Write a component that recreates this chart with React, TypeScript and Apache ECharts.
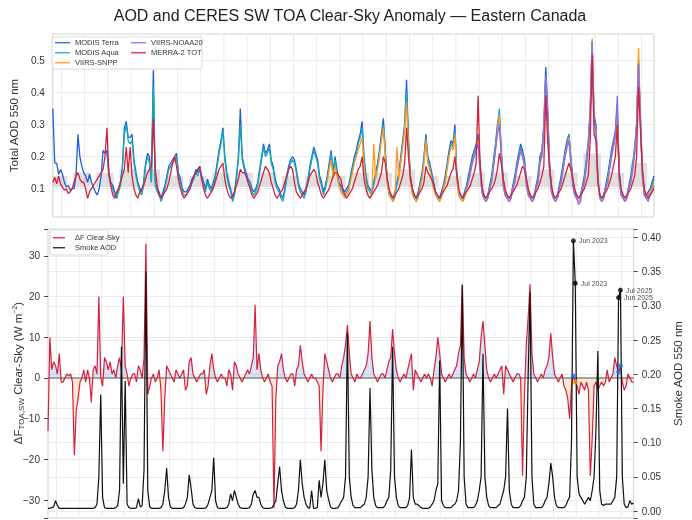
import React, { useEffect, useRef } from "react";
import * as echarts from "echarts";

// Month index 0 = Mar 2000, last = Feb 2026 (312 months)
const START_YEAR = 2000;
const START_MONTH = 3;
const N_MONTHS = 312;
const MONTH_NAMES = ["Jan","Feb","Mar","Apr","May","Jun","Jul","Aug","Sep","Oct","Nov","Dec"];
const monthIndex = (y: number, m: number) => (y - START_YEAR) * 12 + (m - START_MONTH);

// ---------- Top panel: total AOD 550 nm ----------
const modisTerraStart = [2000, 3];
const modisTerra = [
  .35,.18,.18,.145,.16,.145,.12,.105,.11,.095,
  .10,.10,.14,.27,.20,.17,.15,.14,.12,.145,.12,.105,
  .09,.08,.10,.14,.22,.21,.22,.15,.12,.11,.09,.07,
  .10,.12,.17,.29,.31,.26,.26,.27,.19,.15,.12,.10,
  .09,.12,.18,.21,.20,.12,.47,.12,.10,.09,.07,.09,
  .11,.14,.17,.18,.19,.20,.21,.15,.13,.10,.09,.09,
  .10,.11,.13,.14,.16,.15,.17,.14,.12,.10,.13,.11,
  .10,.12,.14,.18,.22,.25,.29,.20,.15,.12,.10,.07,
  .09,.14,.20,.35,.20,.17,.15,.13,.12,.10,.09,.10,
  .12,.16,.20,.24,.21,.22,.24,.19,.17,.13,.11,.10,
  .08,.07,.10,.14,.17,.19,.20,.19,.16,.12,.10,.09,
  .08,.10,.13,.17,.20,.23,.21,.19,.14,.12,.09,.11,
  .14,.18,.22,.15,.20,.16,.12,.11,.10,.09,.10,.11,
  .14,.17,.20,.22,.25,.27,.31,.20,.14,.11,.10,.09,
  .12,.15,.18,.22,.27,.32,.22,.13,.09,.08,.07,.09,
  .12,.15,.20,.25,.30,.44,.25,.14,.10,.08,.07,.09,
  .12,.15,.20,.27,.20,.18,.15,.12,.09,.08,.07,.09,
  .11,.14,.18,.22,.25,.24,.30,.15,.09,.08,.07,.09,
  .11,.14,.17,.20,.22,.24,.27,.18,.10,.08,.07,.08,
  .11,.14,.19,.24,.30,.33,.22,.13,.09,.08,.07,.08,
  .11,.14,.18,.21,.24,.22,.19,.13,.09,.08,.07,.08,
  .11,.14,.20,.22,.30,.48,.35,.18,.10,.08,.07,.08,
  .11,.14,.18,.22,.25,.27,.20,.13,.09,.08,.07,.08,
  .11,.14,.19,.25,.35,.56,.33,.30,.13,.08,.07,.08,
  .11,.14,.18,.22,.25,.28,.36,.15,.09,.08,.07,.08,
  .11,.14,.18,.23,.30,.50,.32,.16,.09,.08,.09,.10,
  .12,.14,
];
const modisAquaStart = [2002, 7];
const modisAqua = [
  .21,.14,.11,.10,.08,.07,
  .09,.11,.16,.27,.30,.25,.24,.25,.18,.14,.11,.09,
  .08,.11,.17,.20,.18,.12,.42,.11,.09,.08,.06,.08,
  .10,.13,.16,.17,.18,.19,.20,.14,.12,.09,.08,.08,
  .09,.10,.12,.13,.15,.14,.16,.13,.11,.09,.12,.10,
  .09,.11,.13,.17,.21,.24,.28,.19,.14,.11,.09,.06,
  .08,.13,.19,.30,.19,.16,.14,.12,.11,.09,.08,.09,
  .11,.15,.19,.23,.20,.21,.23,.18,.16,.12,.10,.09,
  .07,.06,.09,.13,.16,.18,.19,.18,.15,.11,.09,.08,
  .07,.09,.12,.16,.19,.22,.20,.18,.13,.11,.08,.10,
  .13,.17,.21,.14,.19,.15,.11,.10,.09,.08,.09,.10,
  .13,.16,.19,.21,.24,.26,.29,.19,.13,.10,.09,.08,
  .11,.14,.17,.21,.26,.30,.21,.12,.08,.07,.06,.08,
  .11,.14,.19,.24,.29,.40,.24,.13,.09,.07,.06,.08,
  .11,.14,.19,.26,.19,.17,.14,.11,.08,.07,.06,.08,
  .10,.13,.17,.21,.24,.23,.28,.14,.08,.07,.06,.08,
  .10,.13,.16,.19,.21,.23,.26,.17,.09,.07,.06,.07,
  .10,.13,.18,.23,.29,.35,.21,.12,.08,.07,.06,.07,
  .10,.13,.17,.20,.23,.21,.18,.12,.08,.07,.06,.07,
  .10,.13,.19,.21,.29,.45,.33,.17,.09,.07,.06,.07,
  .10,.13,.17,.21,.24,.27,.19,.12,.08,.07,.06,.07,
  .10,.13,.18,.24,.34,.55,.32,.29,.12,.07,.06,.07,
  .10,.13,.17,.21,.24,.27,.34,.14,.08,.07,.06,.07,
  .10,.13,.17,.22,.29,.49,.31,.15,.08,.07,.08,.09,
  .11,.13,
];
const viirsSnppStart = [2012, 1];
const viirsSnpp = [
  .12,.16,.19,.13,.17,.14,.11,.09,.08,.07,.08,.09,
  .12,.15,.18,.20,.22,.24,.26,.17,.11,.08,.07,.08,
  .24,.13,.16,.20,.25,.29,.20,.12,.08,.07,.06,.07,
  .23,.13,.18,.23,.28,.37,.23,.12,.08,.07,.06,.07,
  .10,.13,.18,.25,.18,.16,.13,.10,.08,.07,.06,.07,
  .10,.12,.16,.20,.23,.22,.27,.13,.08,.07,.06,.07,
  .10,.12,.15,.18,.20,.22,.25,.16,.09,.07,.06,.07,
  .10,.12,.17,.22,.28,.33,.20,.11,.08,.07,.06,.07,
  .10,.12,.16,.19,.22,.20,.17,.11,.08,.07,.06,.07,
  .10,.12,.18,.20,.28,.44,.32,.16,.09,.07,.06,.07,
  .10,.12,.16,.20,.23,.26,.18,.11,.08,.07,.06,.07,
  .10,.12,.17,.23,.33,.57,.31,.28,.12,.07,.06,.07,
  .10,.12,.16,.20,.23,.26,.35,.13,.08,.07,.06,.07,
  .10,.12,.16,.21,.30,.54,.30,.14,.08,.07,.07,.09,
  .10,.12,
];
const viirsNoaa20Start = [2018, 1];
const viirsNoaa20 = [
  .10,.12,.15,.18,.20,.22,.24,.16,.09,.07,.06,.07,
  .10,.12,.17,.22,.27,.30,.20,.11,.08,.07,.06,.07,
  .10,.12,.16,.19,.22,.20,.17,.11,.08,.07,.06,.07,
  .10,.12,.18,.20,.28,.45,.32,.16,.09,.07,.06,.07,
  .10,.12,.16,.20,.23,.25,.18,.11,.08,.07,.05,.06,
  .10,.12,.17,.23,.33,.56,.31,.28,.12,.07,.06,.07,
  .10,.12,.16,.20,.23,.27,.39,.13,.08,.07,.06,.07,
  .10,.12,.16,.21,.30,.49,.30,.14,.08,.07,.06,.08,
  .09,.11,
];
const merra2Start = [2000, 3];
const merra2Tot = [
  .12,.135,.115,.14,.115,.105,.095,.10,.085,.09,
  .10,.12,.14,.15,.13,.12,.12,.10,.07,.09,.10,.11,
  .12,.13,.14,.15,.16,.20,.29,.15,.11,.08,.07,.09,
  .10,.12,.14,.16,.23,.15,.23,.14,.10,.08,.07,.09,
  .10,.11,.13,.15,.16,.17,.32,.16,.11,.08,.07,.08,
  .09,.10,.12,.15,.18,.20,.17,.13,.10,.08,.07,.08,
  .09,.10,.12,.14,.15,.16,.17,.13,.10,.08,.07,.08,
  .09,.10,.12,.14,.16,.17,.18,.13,.10,.08,.07,.08,
  .09,.11,.13,.16,.15,.15,.14,.12,.10,.08,.07,.08,
  .09,.11,.13,.15,.17,.16,.15,.12,.10,.08,.07,.08,
  .09,.10,.12,.14,.16,.17,.16,.12,.09,.08,.07,.08,
  .09,.10,.12,.14,.15,.16,.15,.12,.10,.08,.07,.08,
  .09,.10,.12,.14,.15,.15,.14,.13,.10,.08,.07,.08,
  .09,.10,.12,.14,.16,.17,.20,.13,.10,.08,.07,.08,
  .09,.10,.11,.13,.15,.20,.18,.13,.10,.08,.07,.08,
  .09,.10,.12,.14,.18,.29,.20,.13,.10,.08,.07,.08,
  .09,.10,.12,.17,.15,.14,.13,.11,.09,.08,.07,.08,
  .09,.10,.11,.13,.15,.16,.20,.14,.10,.08,.07,.08,
  .09,.10,.11,.13,.15,.18,.39,.18,.11,.08,.07,.08,
  .09,.10,.11,.13,.16,.21,.18,.13,.10,.08,.07,.08,
  .09,.10,.11,.13,.15,.17,.16,.13,.10,.08,.07,.08,
  .09,.10,.12,.14,.17,.39,.25,.16,.11,.08,.07,.08,
  .09,.10,.12,.14,.16,.18,.16,.13,.10,.08,.07,.08,
  .09,.10,.12,.14,.25,.52,.27,.25,.12,.08,.07,.08,
  .09,.10,.12,.14,.17,.20,.30,.15,.10,.08,.07,.08,
  .09,.10,.12,.14,.20,.42,.28,.16,.10,.08,.07,.08,
  .09,.10,
];
// Grey background bars (seasonal mean AOD), one per year
const barYears = [2000,2001,2002,2003,2004,2005,2006,2007,2008,2009,2010,2011,2012,2013,2014,2015,2016,2017,2018,2019,2020,2021,2022,2023,2024,2025];
const barTops = [.14,.15,.15,.16,.16,.14,.14,.15,.15,.15,.14,.14,.14,.15,.15,.16,.14,.14,.15,.15,.14,.16,.15,.21,.15,.18];
const barBase = 0.105;

// ---------- Bottom panel ----------
const dfStart = [2000, 3];
const dfClearSky = [
  -13,10,2,4,3,1,6,-1,-1,0,
  1,0.5,1,-1,-19,-8,-5,-1,0,2,-1,2,
  0,-6,2,3,1,20,0,-2,5,4,2,4,
  1,2,0,3,5,2,20,3,1,-2,0,1,
  1,-1,3,2,0,5,33,-4,-2,0,1,-1,
  0,2,-3,-18,-5,3,2,1,0,-1,2,1,
  0,1,2,-3,-2,4,5,1,0,-1,0,1,
  1,2,-4,-2,3,6,2,0,-1,0,1,0,
  0,-2,2,1,-3,4,3,1,0,-1,0,1,
  2,1,3,5,18,2,6,2,0,-1,0,1,
  -1,-2,-32,-5,3,4,6,2,0,-1,0,1,
  1,-2,2,3,8,4,1,0,-1,0,1,0,
  0,-1,-2,-18,-3,6,4,2,0,-1,0,1,
  1,0,3,5,8,13,6,1,0,-1,1,0,
  0,1,2,3,6,14,5,1,0,-1,0,1,
  1,0,2,4,5,12,6,2,0,-1,0,1,
  0,2,4,6,-3,2,1,0,-1,0,1,0,
  1,0,-2,2,5,10,6,1,0,-1,0,1,
  0,1,2,3,6,8,23,5,1,0,-1,0,
  1,0,2,4,10,14,8,2,0,-1,0,1,
  0,1,2,3,-4,3,2,1,0,-1,0,1,
  1,0,-24,-4,8,15,23,6,1,0,-1,0,
  1,0,2,3,5,11,5,1,0,-1,0,1,
  -2,-3,-5,-10,-2,0.5,-1,-2,-4,-1,-2,-3,
  -1,-3,-24,-15,-2,-1,-3,-2,-1,-2,-1,2,
  -1,0,1,5,3,1.5,3,-1,-3,-2,1,0,
  -1,-1,
];
const smokeStart = [2000, 3];
const smokeAod = [
  .004,.004,.005,.006,.015,.008,.004,.004,.004,.004,
  .004,.004,.004,.004,.004,.004,.004,.004,.004,.004,.004,.004,
  .004,.004,.004,.005,.01,.05,.17,.02,.005,.004,.004,.004,
  .004,.004,.005,.008,.03,.24,.04,.19,.01,.005,.004,.004,
  .004,.005,.018,.006,.008,.06,.35,.03,.006,.004,.004,.004,
  .004,.004,.005,.01,.03,.063,.02,.006,.004,.004,.004,.004,
  .004,.004,.005,.01,.02,.053,.033,.01,.005,.004,.004,.004,
  .004,.004,.005,.01,.02,.03,.078,.015,.005,.004,.004,.004,
  .004,.005,.01,.025,.015,.03,.02,.01,.005,.004,.004,.004,
  .004,.005,.01,.025,.03,.02,.02,.01,.005,.004,.004,.004,
  .004,.005,.01,.015,.04,.065,.03,.015,.006,.004,.004,.004,
  .004,.005,.01,.03,.075,.04,.02,.01,.005,.004,.03,.004,
  .004,.005,.045,.02,.04,.075,.03,.017,.006,.004,.004,.004,
  .005,.01,.015,.02,.05,.26,.05,.02,.008,.005,.005,.005,
  .005,.008,.01,.02,.05,.18,.06,.02,.008,.005,.005,.005,
  .005,.008,.015,.02,.06,.24,.05,.02,.008,.005,.005,.005,
  .005,.008,.02,.09,.02,.01,.01,.008,.005,.004,.004,.004,
  .004,.006,.01,.015,.03,.04,.22,.015,.008,.005,.005,.005,
  .005,.008,.01,.015,.03,.10,.33,.05,.01,.005,.005,.005,
  .005,.008,.015,.03,.05,.23,.05,.02,.008,.005,.005,.005,
  .005,.008,.01,.02,.03,.05,.15,.03,.01,.005,.005,.005,
  .005,.008,.015,.02,.05,.20,.32,.05,.01,.005,.005,.005,
  .005,.008,.015,.02,.04,.07,.05,.02,.008,.005,.005,.005,
  .005,.008,.015,.02,.10,.395,.333,.05,.025,.02,.015,.01,
  .015,.02,.015,.03,.05,.12,.234,.03,.01,.008,.01,.01,
  .01,.01,.015,.02,.05,.312,.323,.05,.01,.005,.006,.015,
  .01,.012,
];
const annotatedMonths = [[2023, 6], [2023, 7], [2025, 6], [2025, 7]];

// ---------- helpers ----------
const toSeries = (start: number[], vals: number[]) => {
  const i0 = monthIndex(start[0], start[1]);
  return vals.map((v, k) => [i0 + k, v]);
};
const monthName = (i: number) => {
  const t = i + (START_MONTH - 1);
  return MONTH_NAMES[t % 12] + " " + (START_YEAR + Math.floor(t / 12));
};

const FONT = "'Liberation Sans', Arial, Helvetica, sans-serif";
const C = {
  terra: "#1f5fd8",
  aqua: "#17a9b9",
  snpp: "#ff9a1f",
  noaa: "#8a6df0",
  merra: "#d6213d",
  df: "#d6213d",
  smoke: "#111111",
};

export default function App() {
  const ref = useRef<HTMLDivElement>(null);
  useEffect(() => {
    if (!ref.current) return;
    const chart = echarts.init(ref.current, undefined, { renderer: "svg" });

    const df = toSeries(dfStart, dfClearSky);
    const pos: number[][] = [];
    const neg: number[][] = [];
    for (let k = 0; k < df.length; k++) {
      const [x, v] = df[k];
      if (k > 0) {
        const [xp, vp] = df[k - 1];
        if ((vp > 0 && v < 0) || (vp < 0 && v > 0)) {
          const xc = xp + (0 - vp) / (v - vp) * (x - xp);
          pos.push([xc, 0]);
          neg.push([xc, 0]);
        }
      }
      pos.push([x, Math.max(v, 0)]);
      neg.push([x, Math.min(v, 0)]);
    }

    const smoke = toSeries(smokeStart, smokeAod);
    const annotIdx = annotatedMonths.map(([y, m]) => monthIndex(y, m));
    const dfStartIdx = monthIndex(dfStart[0], dfStart[1]);
    const smokeStartIdx = monthIndex(smokeStart[0], smokeStart[1]);

    const yearTicks: number[][] = [];
    for (let y = START_YEAR; y <= 2026; y++) {
      const v = monthIndex(y, 7) + 0.5;
      if (v > 0 && v < N_MONTHS - 1) yearTicks.push([v, 0]);
    }

    const gridLineSeries = (xi: number, yi: number) => ({
      type: "custom",
      xAxisIndex: xi,
      yAxisIndex: yi,
      z: 1,
      silent: true,
      data: yearTicks,
      renderItem: (params: any, api: any) => {
        const x = api.coord([api.value(0), api.value(1)])[0];
        const cs = params.coordSys;
        return {
          type: "line",
          shape: { x1: x, y1: cs.y, x2: x, y2: cs.y + cs.height },
          style: { stroke: "#ebebeb", lineWidth: 1 },
        };
      },
    });

    const lineS = (name: string, color: string, data: any[], xi: number, yi: number, z = 3, w = 1.3) => ({
      type: "line",
      name,
      data,
      xAxisIndex: xi,
      yAxisIndex: yi,
      showSymbol: false,
      symbol: "none",
      connectNulls: false,
      z,
      lineStyle: { color, width: w },
      itemStyle: { color },
    });

    const legendItems = (x0: number, y0: number, items: [string, string][], lineLen: number, textDx: number) =>
      items.flatMap(([label, color], k) => [
        { type: "line", shape: { x1: x0, y1: y0 + k * 10, x2: x0 + lineLen, y2: y0 + k * 10 }, style: { stroke: color, lineWidth: 1.5, opacity: 0.85 }, z: 100 },
        { type: "text", x: x0 + textDx, y: y0 + k * 10, style: { text: label, fill: "#333", font: `7.5px ${FONT}`, verticalAlign: "middle" }, z: 100 },
      ]);

    const option: any = {
      animation: false,
      textStyle: { fontFamily: FONT },
      grid: [
        { left: 48, top: 34, width: 606, height: 183, show: true, borderColor: "#cfcfcf", borderWidth: 1, backgroundColor: "#fff" },
        { left: 48, top: 229, width: 606, height: 289, show: true, borderColor: "#cfcfcf", borderWidth: 1, backgroundColor: "#fff" },
      ],
      xAxis: [
        { type: "value", gridIndex: 0, min: 0, max: N_MONTHS - 1, show: false },
        { type: "value", gridIndex: 1, min: 0, max: N_MONTHS - 1, show: false },
      ],
      yAxis: [
        {
          type: "value", gridIndex: 0, min: 0.0115, max: 0.583, splitNumber: 5,
          axisLine: { show: false }, axisTick: { show: false },
          axisLabel: {
            color: "#333", fontSize: 10, margin: 8, fontFamily: FONT,
            formatter: (v: number) => (Math.abs(v * 10 - Math.round(v * 10)) < 1e-6 ? v.toFixed(1) : ""),
          },
          splitLine: { lineStyle: { color: "#ebebeb", width: 1 } },
          name: "Total AOD 550 nm", nameLocation: "middle", nameGap: 18, nameRotate: 90,
          nameTextStyle: { fontSize: 11.5, color: "#333", fontFamily: FONT },
        },
        {
          type: "value", gridIndex: 1, min: -34.4, max: 36.6, splitNumber: 7,
          axisLine: { show: false },
          axisTick: { show: true, length: 4, lineStyle: { color: "#444" } },
          axisLabel: {
            color: "#333", fontSize: 10, margin: 8, fontFamily: FONT,
            formatter: (v: number) => (Math.abs(v / 10 - Math.round(v / 10)) < 1e-6 ? String(Math.round(v)).replace("-", "\u2212") : ""),
          },
          splitLine: { lineStyle: { color: "#ebebeb", width: 1 } },
        },
        {
          type: "value", gridIndex: 1, position: "right", min: -0.0102, max: 0.4123, splitNumber: 8,
          axisLine: { show: false },
          axisTick: { show: true, length: 4, lineStyle: { color: "#444" } },
          axisLabel: {
            color: "#333", fontSize: 10, margin: 8, fontFamily: FONT,
            formatter: (v: number) => (Math.abs(v / 0.05 - Math.round(v / 0.05)) < 1e-6 ? v.toFixed(2) : ""),
          },
          splitLine: { lineStyle: { color: "#ebebeb", width: 1 } },
          name: "Smoke AOD 550 nm", nameLocation: "middle", nameGap: 33, nameRotate: 90,
          nameTextStyle: { fontSize: 11.5, color: "#333", fontFamily: FONT },
        },
      ],
      series: [
        gridLineSeries(0, 0),
        gridLineSeries(1, 1),
        {
          type: "custom",
          name: "season",
          xAxisIndex: 0,
          yAxisIndex: 0,
          z: 2,
          silent: true,
          data: barYears.map((y, k) => [monthIndex(y, 6), barBase, barTops[k]]),
          encode: { x: 0, y: [1, 2] },
          renderItem: (params: any, api: any) => {
            const c = api.value(0);
            const p0 = api.coord([c - 4.5, api.value(2)]);
            const p1 = api.coord([c + 4.5, api.value(1)]);
            const cs = params.coordSys;
            const xl = Math.max(p0[0], cs.x);
            const xr = Math.min(p1[0], cs.x + cs.width);
            return {
              type: "rect",
              shape: { x: xl, y: p0[1], width: xr - xl, height: p1[1] - p0[1] },
              style: { fill: "rgba(170,170,170,0.38)" },
            };
          },
        },
        lineS("MODIS Terra", C.terra, toSeries(modisTerraStart, modisTerra), 0, 0, 3),
        lineS("MODIS Aqua", C.aqua, toSeries(modisAquaStart, modisAqua), 0, 0, 3),
        lineS("VIIRS-SNPP", C.snpp, toSeries(viirsSnppStart, viirsSnpp), 0, 0, 3),
        lineS("VIIRS-NOAA20", C.noaa, toSeries(viirsNoaa20Start, viirsNoaa20), 0, 0, 3),
        lineS("MERRA-2 TOT", C.merra, toSeries(merra2Start, merra2Tot), 0, 0, 4),
        {
          type: "line", name: "pos", xAxisIndex: 1, yAxisIndex: 1, data: pos, showSymbol: false, symbol: "none", z: 2, silent: true,
          lineStyle: { width: 0 }, areaStyle: { color: "rgba(111,155,224,0.4)", origin: 0 },
        },
        {
          type: "line", name: "neg", xAxisIndex: 1, yAxisIndex: 1, data: neg, showSymbol: false, symbol: "none", z: 2, silent: true,
          lineStyle: { width: 0 }, areaStyle: { color: "rgba(251,170,90,0.38)", origin: 0 },
        },
        {
          type: "line", name: "zero", xAxisIndex: 1, yAxisIndex: 1, data: [[0, 0], [N_MONTHS - 1, 0]], showSymbol: false, symbol: "none", z: 3, silent: true,
          lineStyle: { color: "#8a8a8a", width: 1.5 },
        },
        lineS("\u0394F Clear-Sky", C.df, df, 1, 1, 4, 1.2),
        lineS("Smoke AOD", C.smoke, smoke, 1, 2, 5, 1.2),
        {
          type: "scatter", name: "dfDots", xAxisIndex: 1, yAxisIndex: 1, z: 7, symbolSize: 5,
          data: annotIdx.map((i) => {
            const v = dfClearSky[i - dfStartIdx];
            return { value: [i, v], itemStyle: { color: v >= 0 ? "#1f6fe8" : "#ff8c1a" } };
          }),
        },
        {
          type: "scatter", name: "smokeDots", xAxisIndex: 1, yAxisIndex: 2, z: 8, symbolSize: 5,
          itemStyle: { color: "#000" },
          data: annotIdx.map((i) => ({ value: [i, smokeAod[i - smokeStartIdx]], name: monthName(i) })),
          label: { show: true, position: "right", distance: 3, formatter: (p: any) => p.name, fontSize: 7, color: "#222", fontFamily: FONT },
        },
      ],
      graphic: [
        {
          type: "text", x: 350, y: 15,
          style: { text: "AOD and CERES SW TOA Clear-Sky Anomaly \u2014 Eastern Canada", fill: "#222", font: `16px ${FONT}`, align: "center", verticalAlign: "middle" },
        },
        {
          type: "text", x: 18, y: 373, rotation: Math.PI / 2,
          style: {
            text: "{a|\u0394F}{s|TOA,SW}{a| Clear-Sky (W m}{p|\u22122}{a|)}",
            align: "center", verticalAlign: "middle",
            rich: {
              a: { fontSize: 11.5, fill: "#333", fontFamily: FONT },
              s: { fontSize: 8, fill: "#333", fontFamily: FONT, padding: [6, 0, 0, 0] },
              p: { fontSize: 7, fill: "#333", fontFamily: FONT, padding: [0, 0, 7, 0] },
            },
          },
        },
        { type: "rect", shape: { x: 52, y: 37, width: 150, height: 32, r: 2 }, style: { fill: "rgba(255,255,255,0.85)", stroke: "#d9d9d9", lineWidth: 1 }, z: 99 },
        ...legendItems(55, 42.7, [["MODIS Terra", C.terra], ["MODIS Aqua", C.aqua], ["VIIRS-SNPP", C.snpp]], 15, 20),
        ...legendItems(131, 42.7, [["VIIRS-NOAA20", C.noaa], ["MERRA-2 TOT", C.merra]], 15, 20),
        { type: "rect", shape: { x: 50, y: 230, width: 58, height: 25, r: 2 }, style: { fill: "rgba(255,255,255,0.85)", stroke: "#d9d9d9", lineWidth: 1 }, z: 99 },
        ...legendItems(53, 237.7, [["\u0394F Clear-Sky", C.df], ["Smoke AOD", C.smoke]], 12, 22),
      ],
    };
    chart.setOption(option);
    return () => chart.dispose();
  }, []);
  return <div ref={ref} style={{ position: "fixed", left: 0, top: 0, width: 692, height: 520 }} />;
}
